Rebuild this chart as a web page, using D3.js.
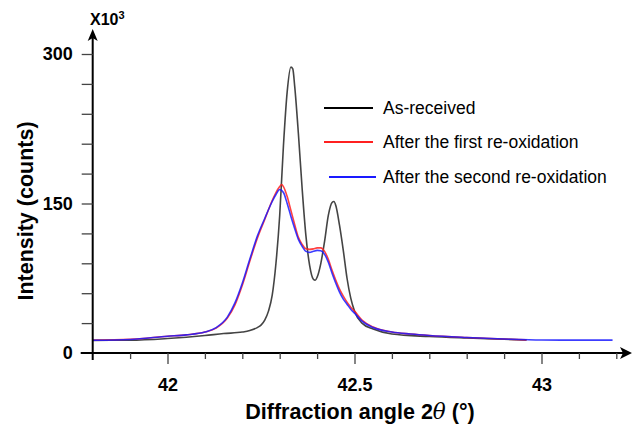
<!DOCTYPE html>
<html>
<head>
<meta charset="utf-8">
<script src="https://cdn.jsdelivr.net/npm/d3@7"></script>
<style>
  html, body { margin: 0; padding: 0; background: #fff; }
  svg { display: block; font-family: "Liberation Sans", Arial, sans-serif; }
</style>
</head>
<body>
<svg id="chart" width="638" height="427"></svg>
<script>
// ---------- data ----------
const seriesNames = ["As-received", "After the first re-oxidation", "After the second re-oxidation"];
const seriesColors = ["#3a3a3a", "#ff2020", "#1a1aff"];

const asReceivedX = [41.80, 41.90, 42.00, 42.10, 42.15, 42.20, 42.22, 42.24, 42.25, 42.26, 42.27, 42.28, 42.29, 42.30, 42.31, 42.32, 42.33, 42.335, 42.34, 42.35, 42.36, 42.37, 42.38, 42.39, 42.395, 42.40, 42.41, 42.42, 42.43, 42.44, 42.445, 42.45, 42.46, 42.47, 42.48, 42.49, 42.50, 42.52, 42.55, 42.60, 42.70, 42.80, 42.90, 42.96];
const asReceivedY = [12.7, 12.8, 14.5, 17.5, 19.5, 21, 22.5, 25.5, 28, 33, 42, 58, 90, 138, 208, 262, 287, 285, 268, 220, 165, 118, 88, 74, 73, 76, 90, 112, 138, 151, 152, 148, 128, 103, 75, 55, 42, 30, 24, 19, 16.5, 15, 13.8, 13];

const firstX = [41.80, 41.90, 42.00, 42.05, 42.10, 42.13, 42.16, 42.18, 42.20, 42.22, 42.24, 42.26, 42.28, 42.29, 42.30, 42.305, 42.31, 42.32, 42.33, 42.34, 42.35, 42.36, 42.37, 42.38, 42.39, 42.40, 42.41, 42.42, 42.43, 42.44, 42.45, 42.46, 42.47, 42.48, 42.49, 42.50, 42.52, 42.55, 42.60, 42.65, 42.70, 42.80, 42.90, 42.96];
const firstY = [12.8, 13.8, 16.8, 18.2, 21, 25, 35, 48, 68, 92, 115, 134, 153, 161, 167, 169, 167, 157, 143, 129, 116, 109, 104.5, 104, 104.5, 105.5, 105.5, 102, 94, 83, 73, 64, 57, 51, 46, 42, 33, 26, 21, 19, 17.5, 15.5, 14, 13.2];

const secondX = [41.80, 41.90, 42.00, 42.05, 42.10, 42.13, 42.16, 42.18, 42.20, 42.22, 42.24, 42.26, 42.28, 42.29, 42.30, 42.31, 42.32, 42.33, 42.34, 42.35, 42.36, 42.37, 42.38, 42.39, 42.40, 42.41, 42.42, 42.43, 42.44, 42.45, 42.46, 42.47, 42.48, 42.49, 42.50, 42.52, 42.55, 42.60, 42.65, 42.70, 42.80, 42.90, 43.00, 43.10, 43.19];
const secondY = [12.8, 13.6, 16.8, 18.2, 21, 25.5, 36, 50, 70, 94, 117, 135, 152, 159, 164, 161, 150, 137, 125, 114, 107, 102, 101, 102, 103, 102.5, 99, 91, 80, 70, 61, 54, 49, 44, 40, 32, 25.5, 21, 19, 17.5, 15.5, 14, 13, 12.9, 12.9];

const xMajorTicks = [42, 42.5, 43];
const xMinorTicks = [41.9, 42.1, 42.2, 42.3, 42.4, 42.6, 42.7, 42.8, 42.9, 43.1, 43.2];
const yMajorTicks = [0, 150, 300];
const yMinorTicks = [30, 60, 90, 120, 180, 210, 240, 270];

// ---------- layout ----------
const FONT = '"Liberation Sans", Arial, sans-serif';
const svg = d3.select("#chart");
const x = d3.scaleLinear().domain([41.8, 43.2]).range([92.7, 616.3]);
const y = d3.scaleLinear().domain([0, 300]).range([353, 54]);

const series = [
  { name: seriesNames[0], color: seriesColors[0], pts: asReceivedX.map((v, i) => [v, asReceivedY[i]]) },
  { name: seriesNames[1], color: seriesColors[1], pts: firstX.map((v, i) => [v, firstY[i]]) },
  { name: seriesNames[2], color: seriesColors[2], pts: secondX.map((v, i) => [v, secondY[i]]) }
];

const line = d3.line().x(d => x(d[0])).y(d => y(d[1])).curve(d3.curveMonotoneX);

// curves
series.forEach((s, i) => {
  svg.append("path")
    .attr("d", line(s.pts))
    .attr("fill", "none")
    .attr("stroke", s.color)
    .attr("stroke-opacity", i === 0 ? 0.95 : 0.85)
    .attr("stroke-width", 1.6)
    .attr("stroke-linejoin", "round");
});

// ---------- axes ----------
const axisG = svg.append("g").attr("stroke", "#000");

axisG.append("line")
  .attr("x1", x(41.8) - 12).attr("x2", 628)
  .attr("y1", y(0)).attr("y2", y(0))
  .attr("stroke-width", 2);
svg.append("path")
  .attr("d", `M632,${y(0)} L620,${y(0) - 6} L623,${y(0)} L620,${y(0) + 6} Z`)
  .attr("fill", "#000");

axisG.append("line")
  .attr("x1", x(41.8)).attr("x2", x(41.8))
  .attr("y1", y(0) + 7).attr("y2", 36)
  .attr("stroke-width", 2);
svg.append("path")
  .attr("d", `M${x(41.8)},29 L${x(41.8) - 5},41 L${x(41.8)},38 L${x(41.8) + 5},41 Z`)
  .attr("fill", "#000");

// x ticks
const xAxisMajor = d3.axisBottom(x).tickValues(xMajorTicks).tickSize(11).tickFormat(d3.format("")).tickPadding(14);
const xAxisMinor = d3.axisBottom(x).tickValues(xMinorTicks).tickSize(6).tickFormat("");
const gxMinor = svg.append("g").attr("transform", `translate(0,${y(0)})`).call(xAxisMinor);
const gxMajor = svg.append("g").attr("transform", `translate(0,${y(0)})`).call(xAxisMajor);
[gxMinor, gxMajor].forEach(g => {
  g.select(".domain").remove();
  g.selectAll(".tick line").attr("stroke", "#444").attr("stroke-width", 1.3);
});
gxMajor.selectAll(".tick text")
  .attr("fill", "#000")
  .style("font-size", "18px")
  .style("font-weight", "bold")
  .style("font-family", FONT);

// y ticks
const yAxisMajor = d3.axisLeft(y).tickValues(yMajorTicks).tickSize(11).tickFormat(d3.format("")).tickPadding(9);
const yAxisMinor = d3.axisLeft(y).tickValues(yMinorTicks).tickSize(11).tickFormat("");
const gyMinor = svg.append("g").attr("transform", `translate(${x(41.8)},0)`).call(yAxisMinor);
const gyMajor = svg.append("g").attr("transform", `translate(${x(41.8)},0)`).call(yAxisMajor);
[gyMinor, gyMajor].forEach(g => {
  g.select(".domain").remove();
  g.selectAll(".tick line").attr("stroke", "#444").attr("stroke-width", 1.3);
});
gyMajor.selectAll(".tick").filter(d => d === 0).select("line").remove();
gyMajor.selectAll(".tick text")
  .attr("fill", "#000")
  .style("font-size", "18px")
  .style("font-weight", "bold")
  .style("font-family", FONT);

// multiplier label
const mult = svg.append("text")
  .attr("x", 90).attr("y", 25)
  .style("font-size", "16px").style("font-weight", "bold");
mult.append("tspan").text("X10");
mult.append("tspan").attr("dy", -6).style("font-size", "11px").text("3");

// axis titles
svg.append("text")
  .attr("transform", "translate(33,211) rotate(-90)")
  .attr("text-anchor", "middle")
  .style("font-size", "21.5px").style("font-weight", "bold")
  .text("Intensity (counts)");

const xt = svg.append("text")
  .attr("x", 360).attr("y", 419)
  .attr("text-anchor", "middle")
  .style("font-size", "21.5px").style("font-weight", "bold");
xt.append("tspan").text("Diffraction angle 2");
xt.append("tspan").style("font-style", "italic").style("font-family", '"DejaVu Serif", serif').style("font-weight", "normal").text("θ");
xt.append("tspan").text(" (°)");

// ---------- legend ----------
const legendY = [108, 142, 177];
const legend = svg.append("g");
series.forEach((s, i) => {
  legend.append("line")
    .attr("x1", 324 + (i === 2 ? 5 : 0)).attr("x2", 373 + (i === 2 ? 3 : 0))
    .attr("y1", legendY[i]).attr("y2", legendY[i])
    .attr("stroke", i === 0 ? "#000" : s.color)
    .attr("stroke-width", 2.2);
  legend.append("text")
    .attr("x", 383).attr("y", legendY[i])
    .attr("dy", "0.35em")
    .style("font-size", "17.5px")
    .attr("fill", "#000")
    .text(s.name);
});
</script>
</body>
</html>
